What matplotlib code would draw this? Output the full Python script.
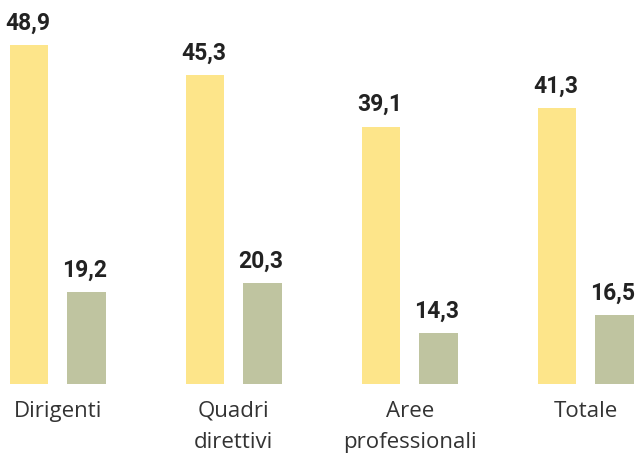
import matplotlib.pyplot as plt
import numpy as np

categories = ['Dirigenti', 'Quadri\ndirettivi', 'Aree\nprofessionali', 'Totale']
serie_a = [48.9, 45.3, 39.1, 41.3]
serie_b = [19.2, 20.3, 14.3, 16.5]

col_a = '#FDE58A'
col_b = '#BFC4A0'

fig = plt.figure(figsize=(6.38, 4.57), dpi=100)
ax = fig.add_axes([0, 1 - 384 / 457, 1, 384 / 457])

x = np.arange(len(categories))
w = 0.219
off = 0.163
bars_a = ax.bar(x - off, serie_a, w, bottom=0, color=col_a)
bars_b = ax.bar(x + off, serie_b, w, bottom=0, color=col_b)

ax.set_xlim(-0.328, 3.297)
ax.set_ylim(8.17, 54.3)

for bars in (bars_a, bars_b):
    for b in bars:
        v = b.get_height()
        ax.annotate(f'{v:.1f}'.replace('.', ','),
                    (b.get_x() + b.get_width() / 2, v),
                    xytext=(-1, 11), textcoords='offset points',
                    ha='center', va='baseline', fontsize=16.5, fontweight='bold',
                    family='Roboto', color='#222222')

ax.set_xticks(x)
ax.set_xticklabels(categories, fontsize=16, family=['Open Sans', 'DejaVu Sans'],
                   color='#333333', linespacing=1.62)
ax.tick_params(axis='x', length=0, pad=12)
ax.set_yticks([])
for s in ax.spines.values():
    s.set_visible(False)

fig.savefig('out.png', dpi=100)
